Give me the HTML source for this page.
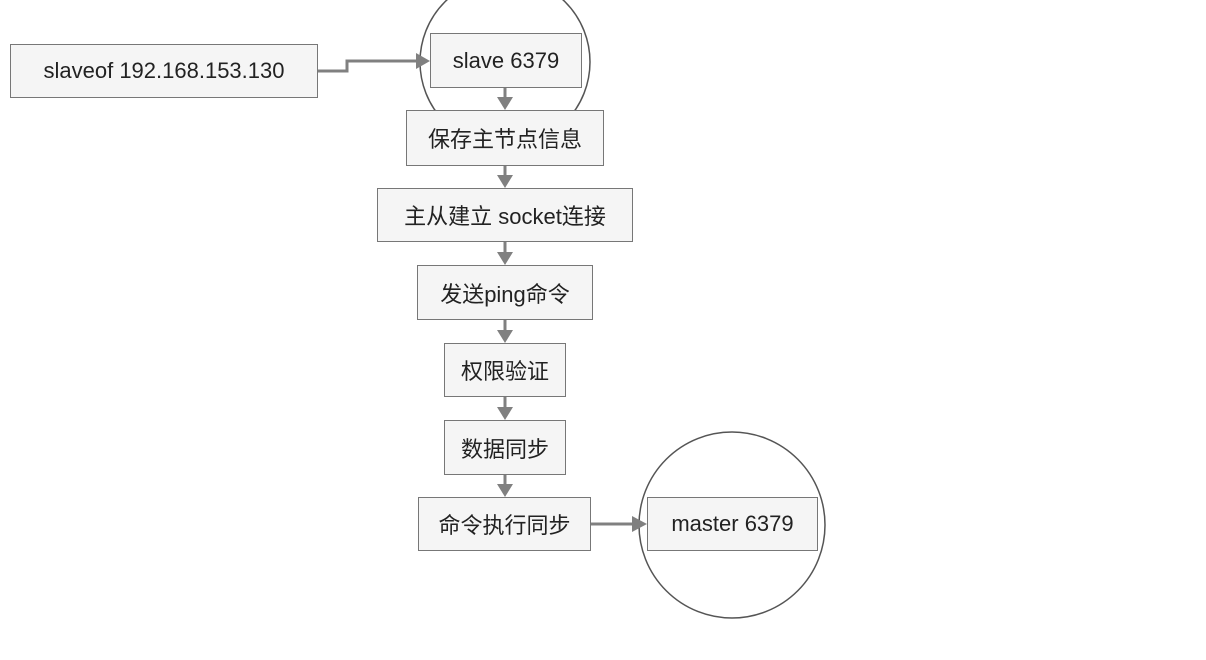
<!DOCTYPE html>
<html><head><meta charset="utf-8"><style>
body{margin:0;background:#fff;width:1206px;height:660px;overflow:hidden;position:relative;font-family:"Liberation Sans","Noto Sans CJK SC",sans-serif}
.b{position:absolute;background:#f5f5f5;border:1px solid #777;box-sizing:border-box;display:flex;align-items:center;justify-content:center;font-size:22px;color:#222;white-space:nowrap}
svg{position:absolute;left:0;top:0}
</style></head><body>
<svg width="1206" height="660">
<circle cx="505" cy="62" r="85" fill="none" stroke="#555" stroke-width="1.5"/>
<circle cx="732" cy="525" r="93" fill="none" stroke="#555" stroke-width="1.5"/>
<g stroke="#808080" stroke-width="3" fill="none">
<polyline points="318,71 347,71 347,61 418,61"/>
<line x1="505" y1="88" x2="505" y2="100"/>
<line x1="505" y1="166" x2="505" y2="178"/>
<line x1="505" y1="242" x2="505" y2="255"/>
<line x1="505" y1="320" x2="505" y2="333"/>
<line x1="505" y1="397" x2="505" y2="410"/>
<line x1="505" y1="475" x2="505" y2="487"/>
<line x1="591" y1="524" x2="635" y2="524"/>
</g>
<g fill="#808080">
<polygon points="416,53 430,61 416,69"/>
<polygon points="497,97 513,97 505,110"/>
<polygon points="497,175 513,175 505,188"/>
<polygon points="497,252 513,252 505,265"/>
<polygon points="497,330 513,330 505,343"/>
<polygon points="497,407 513,407 505,420"/>
<polygon points="497,484 513,484 505,497"/>
<polygon points="632,516 647,524 632,532"/>
</g>
</svg>
<div class="b" style="left:10px;top:44px;width:308px;height:54px">slaveof 192.168.153.130</div>
<div class="b" style="left:430px;top:33px;width:152px;height:55px">slave 6379</div>
<div class="b" style="left:406px;top:110px;width:198px;height:56px">保存主节点信息</div>
<div class="b" style="left:377px;top:188px;width:256px;height:54px">主从建立 socket连接</div>
<div class="b" style="left:417px;top:265px;width:176px;height:55px">发送ping命令</div>
<div class="b" style="left:444px;top:343px;width:122px;height:54px">权限验证</div>
<div class="b" style="left:444px;top:420px;width:122px;height:55px">数据同步</div>
<div class="b" style="left:418px;top:497px;width:173px;height:54px">命令执行同步</div>
<div class="b" style="left:647px;top:497px;width:171px;height:54px">master 6379</div>
</body></html>
